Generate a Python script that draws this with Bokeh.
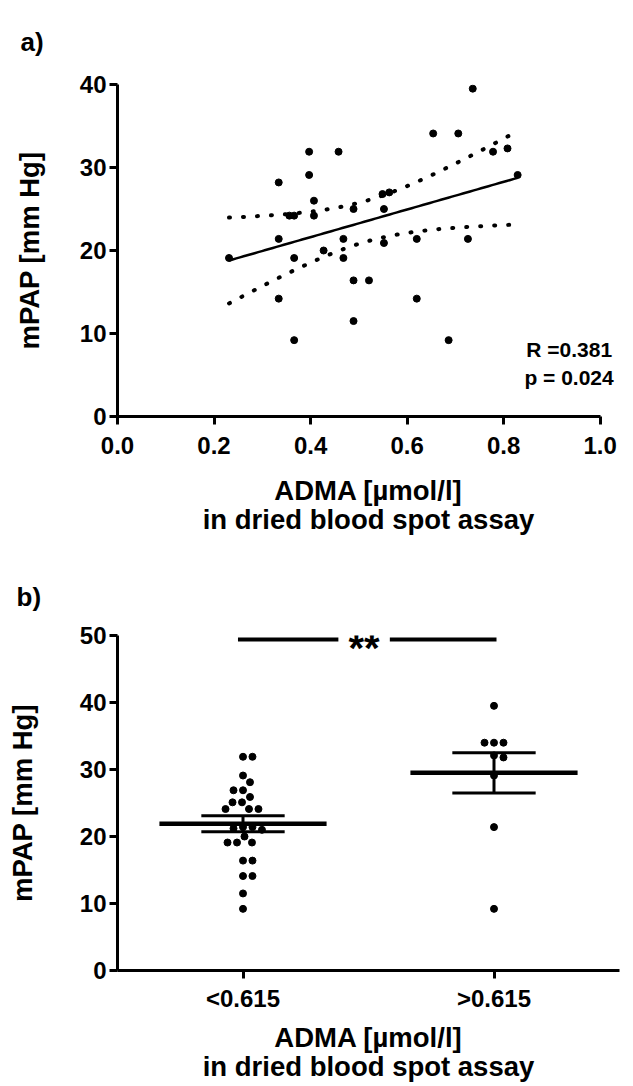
import numpy as np
from bokeh.plotting import figure
from bokeh.layouts import column
from bokeh.models import Range1d, FixedTicker, Label, CustomJSTickFormatter
from bokeh.embed import file_html
from bokeh.resources import INLINE
from bokeh.core.properties import value

# ---------------- Panel a data: ADMA vs mPAP ----------------
adma = [0.231, 0.334, 0.334, 0.334, 0.356, 0.366, 0.366, 0.366, 0.397, 0.397,
        0.407, 0.407, 0.427, 0.458, 0.468, 0.468, 0.489, 0.489, 0.489, 0.521,
        0.549, 0.563, 0.552, 0.552, 0.620, 0.620, 0.654, 0.686, 0.706, 0.726,
        0.736, 0.778, 0.808, 0.829]
mpap = [19.1, 28.2, 21.4, 14.2, 24.2, 24.2, 19.1, 9.2, 31.9, 29.1,
        26.0, 24.2, 20.0, 31.9, 21.4, 19.1, 25.0, 16.4, 11.5, 16.4,
        26.8, 27.0, 25.0, 20.9, 21.4, 14.2, 34.1, 9.2, 34.1, 21.4,
        39.5, 31.9, 32.3, 29.1]
x_ticks_a = [0.0, 0.2, 0.4, 0.6, 0.8, 1.0]
y_ticks_a = [0, 10, 20, 30, 40]
r_text = "R =0.381"
p_text = "p = 0.024"

# ---------------- Panel b data: groups ----------------
groups = ["<0.615", ">0.615"]
low_group = [31.9, 31.9, 29.1, 28.1, 26.9, 26.9, 25.9, 25.1, 25.1, 24.1, 24.1, 24.1,
             21.4, 21.4, 21.2, 21.0, 20.0, 19.1, 19.1, 19.1, 16.4, 16.4, 14.1, 14.1,
             11.5, 9.2]
high_group = [39.5, 34.0, 34.0, 34.0, 32.1, 31.8, 29.1, 21.4, 9.2]
group_mean = [21.9, 29.5]
group_sem = [1.2, 3.0]
y_ticks_b = [0, 10, 20, 30, 40, 50]
sig_label = "**"
sig_y = 49.4

x_title = "ADMA [µmol/l]\nin dried blood spot assay"
y_title = "mPAP [mm Hg]"

FONT = "Liberation Sans"


def style(p):
    p.outline_line_color = None
    p.xgrid.grid_line_color = None
    p.ygrid.grid_line_color = None
    p.background_fill_color = "white"
    p.border_fill_color = "white"
    for ax in p.axis:
        ax.axis_line_width = 3
        ax.axis_line_color = "black"
        ax.major_tick_line_width = 3
        ax.major_tick_line_color = "black"
        ax.major_tick_out = 8
        ax.major_tick_in = 0
        ax.minor_tick_line_color = None
        ax.major_label_text_font = FONT
        ax.major_label_text_font_style = "bold"
        ax.major_label_text_font_size = "24px"
        ax.major_label_text_color = "black"
        ax.axis_label_text_font = FONT
        ax.axis_label_text_font_style = "bold"
        ax.axis_label_text_font_size = "27.5px"
        ax.axis_label_text_color = "black"
        ax.axis_label_text_line_height = 1.0
    p.yaxis.major_label_standoff = 3
    p.xaxis.major_label_standoff = 6
    p.title.text_font = FONT
    p.title.text_font_style = "bold"
    p.title.text_font_size = "26px"
    p.title.text_color = "black"
    p.title.align = "left"


# ---------------- Panel a ----------------
pa = figure(width=625, height=555, x_range=Range1d(0, 1.04), y_range=Range1d(0, 40),
            output_backend="svg", toolbar_location=None, title="a)",
            min_border_left=112, min_border_right=6, min_border_top=83,
            min_border_bottom=139)
style(pa)
pa.title.offset = -97
pa.title.vertical_align = "top"
pa.title.standoff = 52
pa.xaxis.bounds = (0, 1)
pa.xaxis.ticker = FixedTicker(ticks=x_ticks_a)
pa.yaxis.ticker = FixedTicker(ticks=y_ticks_a)
pa.xaxis.formatter = CustomJSTickFormatter(code="return tick.toFixed(1);")
pa.xaxis.axis_label = x_title
pa.yaxis.axis_label = y_title
pa.xaxis.major_label_standoff = 12
pa.xaxis.axis_label_standoff = 18
pa.xaxis.axis_label_text_line_height = 0.95
pa.yaxis.axis_label_standoff = 32

x = np.array(adma)
y = np.array(mpap)
n = len(x)
slope, intercept = np.polyfit(x, y, 1)
xs = np.linspace(x.min(), x.max(), 80)
fit = intercept + slope * xs
resid = y - (intercept + slope * x)
s = np.sqrt(np.sum(resid ** 2) / (n - 2))
t = 2.037
sxx = np.sum((x - x.mean()) ** 2)
half = t * s * np.sqrt(1.0 / n + (xs - x.mean()) ** 2 / sxx)

pa.line(xs, fit + half, line_width=4, color="black", line_dash="1 13", line_cap="round")
pa.line(xs, fit - half, line_width=4, color="black", line_dash="1 13", line_cap="round")
pa.line(xs, fit, line_width=2.5, color="black")
pa.scatter(adma, mpap, size=7, color="black")

pa.add_layout(Label(x=0.847, y=8.05, text=r_text, text_font=FONT, text_font_style="bold",
                    text_color="black", text_font_size="21px", text_baseline="middle",
                    text_align="left"))
pa.add_layout(Label(x=0.843, y=4.7, text=p_text, text_font=FONT, text_font_style="bold",
                    text_color="black", text_font_size="21px", text_baseline="middle",
                    text_align="left"))

# ---------------- Panel b ----------------
pb = figure(width=625, height=531, x_range=Range1d(0, 2), y_range=Range1d(0, 50),
            output_backend="svg", toolbar_location=None, title="b)",
            min_border_left=117, min_border_right=5, min_border_top=80,
            min_border_bottom=116)
style(pb)
pb.title.offset = -101
pb.title.standoff = 47
centers = [0.5, 1.5]
pb.xaxis.ticker = FixedTicker(ticks=centers)
pb.xaxis.major_label_overrides = {0.5: groups[0], 1.5: groups[1]}
pb.yaxis.ticker = FixedTicker(ticks=y_ticks_b)
pb.xaxis.axis_label = x_title
pb.yaxis.axis_label = y_title
pb.xaxis.axis_label_standoff = 7
pb.xaxis.axis_label_text_line_height = 0.95
pb.yaxis.axis_label_standoff = 39

# beeswarm offsets (greedy, in pixel space)
px_per_x = 503 / 2.0
px_per_y = 336 / 50.0
dot_gap = 9.5


def swarm(vals):
    order = np.argsort(vals)[::-1]
    placed = []
    offs = np.zeros(len(vals))
    for i in order:
        yy = vals[i] * px_per_y
        best = None
        for k in range(0, 200):
            for cand in ([0.0] if k == 0 else [k * 0.5, -k * 0.5]):
                ok = all((cand - ox) ** 2 + (yy - oy) ** 2 >= dot_gap ** 2 for ox, oy in placed)
                if ok:
                    best = cand
                    break
            if best is not None:
                break
        placed.append((best, yy))
        offs[i] = best
    return offs / px_per_x


for c, vals in zip(centers, [low_group, high_group]):
    v = np.array(vals)
    pb.scatter(c + swarm(v), v, size=7, color="black")

mean_half = 0.333
sem_half = 0.166
for c, m, se in zip(centers, group_mean, group_sem):
    pb.segment(x0=[c - mean_half], y0=[m], x1=[c + mean_half], y1=[m], line_width=4.5, color="black")
    pb.segment(x0=[c - sem_half, c - sem_half, c], y0=[m + se, m - se, m - se],
               x1=[c + sem_half, c + sem_half, c], y1=[m + se, m - se, m + se],
               line_width=3, color="black")

mid = (centers[0] + centers[1]) / 2
pb.segment(x0=[centers[0] - 0.02, mid + 0.085], y0=[sig_y, sig_y],
           x1=[mid - 0.12, centers[1] + 0.01], y1=[sig_y, sig_y], line_width=4, color="black")
pb.text(x=[mid - 0.018], y=[sig_y], text=[sig_label], text_font=value(FONT), text_font_style="bold",
        text_font_size="40px", text_align="center", text_baseline="middle", y_offset=8,
        color="black")

layout = column(pa, pb)
open("out.html", "w").write(file_html(layout, INLINE))
